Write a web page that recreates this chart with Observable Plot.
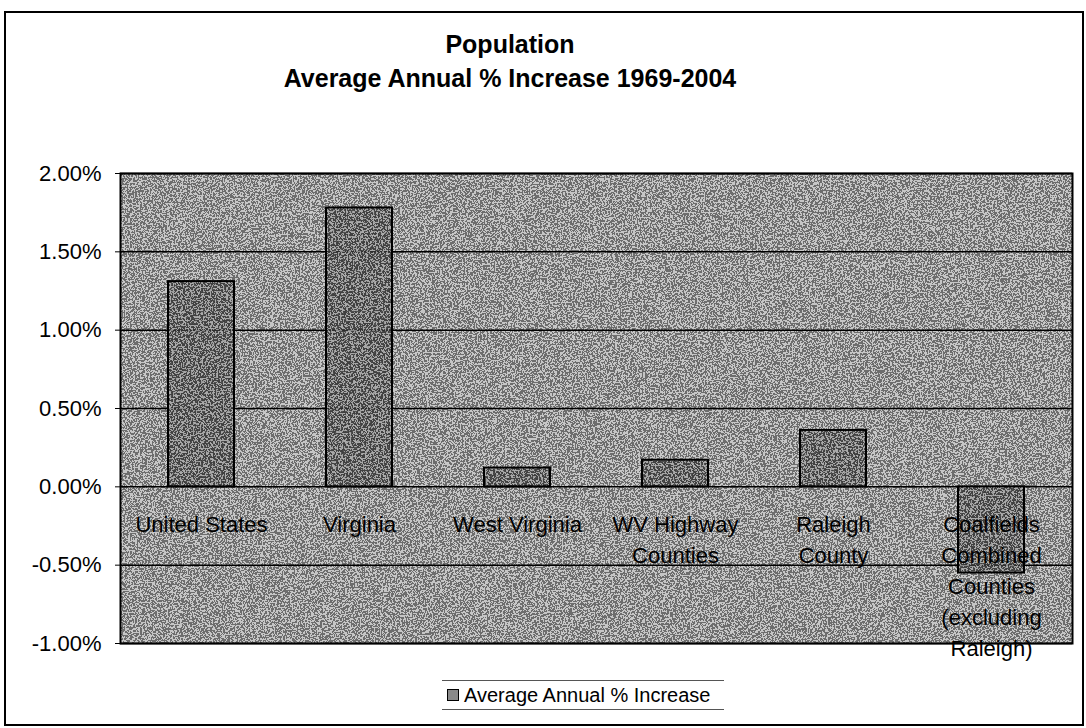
<!DOCTYPE html>
<html>
<head>
<meta charset="utf-8">
<script src="https://cdn.jsdelivr.net/npm/d3@7"></script>
<script src="https://cdn.jsdelivr.net/npm/@observablehq/plot@0.6"></script>
<style>
  html, body { margin: 0; padding: 0; background: #fff; }
  #wrap { position: relative; width: 1086px; height: 728px; overflow: hidden; font-family: "Liberation Sans", Arial, sans-serif; }
  #frame { position: absolute; left: 4px; top: 11px; width: 1080px; height: 715px; border: 2px solid #000; box-sizing: border-box; }
  #title { position: absolute; left: 0; width: 1020px; top: 27px; text-align: center; font-weight: bold; font-size: 25px; line-height: 34px; color: #000; }
  #chart { position: absolute; left: 0; top: 150px; }
  #legend { position: absolute; left: 442px; top: 680px; width: 282px; height: 28px; border-top: 1px solid #555; border-bottom: 1px solid #555; display: flex; align-items: center; font-size: 20px; color: #000; }
  #legend .sw { width: 10px; height: 10px; background: #8a8a8a; border: 1px solid #000; margin-left: 5px; margin-right: 5px; }
</style>
</head>
<body>
<div id="wrap">
  <div id="frame"></div>
  <div id="title">Population<br>Average Annual % Increase 1969-2004</div>
  <div id="chart"></div>
  <div id="legend"><span class="sw"></span>Average Annual % Increase</div>
</div>
<script>
const categories = ["United States", "Virginia", "West Virginia", "WV Highway Counties", "Raleigh County", "Coalfields Combined Counties (excluding Raleigh)"];
const labels = ["United States", "Virginia", "West Virginia", "WV Highway\nCounties", "Raleigh\nCounty", "Coalfields\nCombined\nCounties\n(excluding\nRaleigh)"];
const values = [0.0131, 0.0178, 0.0012, 0.0017, 0.0036, -0.0055];
const yTicks = [-0.01, -0.005, 0, 0.005, 0.01, 0.015, 0.02];

const data = categories.map((c, i) => ({name: c, label: labels[i], value: values[i]}));
const fmt = d3.format(".2%");

const chart = Plot.plot({
  width: 1086,
  height: 513,
  marginLeft: 120,
  marginRight: 14,
  marginTop: 23,
  marginBottom: 20,
  style: {fontFamily: "Liberation Sans, Arial, sans-serif", fontSize: "22px", color: "#000", background: "transparent", overflow: "visible"},
  x: {domain: categories, paddingInner: 0.58, paddingOuter: 0.29, axis: null},
  y: {domain: [-0.01, 0.02], ticks: yTicks, tickFormat: d => fmt(d).replace("−", "-"), tickSize: 5, tickPadding: 14, label: null},
  marks: [
    Plot.frame({fill: "#a8a8a8", stroke: "none"}),
    Plot.gridY(yTicks, {stroke: "#000", strokeOpacity: 1, strokeWidth: 1.5}),
    Plot.barY(data, {x: "name", y: "value", fill: "#8a8a8a", stroke: "none"}),
    Plot.barY(data, {x: "name", y: "value", fill: "none", stroke: "#000", strokeWidth: 2}),
    Plot.text(data, {x: "name", y: 0, text: "label", lineAnchor: "top", dy: 23, lineHeight: 1.41, fontSize: 22, fill: "#000"}),
    Plot.frame({stroke: "#000", strokeWidth: 2})
  ]
});
document.getElementById("chart").appendChild(chart);

// scanned halftone grain on the plot background and bar fills
const svg = d3.select(chart);
svg.insert("defs", ":first-child").html(`
  <filter id="grain" x="0" y="0" width="100%" height="100%" color-interpolation-filters="sRGB">
    <feTurbulence type="fractalNoise" baseFrequency="0.6" numOctaves="2" seed="7" result="n"/>
    <feColorMatrix in="n" type="matrix" values="0.33 0.33 0.33 0 0  0.33 0.33 0.33 0 0  0.33 0.33 0.33 0 0  0 0 0 0 1" result="g"/>
    <feComponentTransfer in="g" result="b">
      <feFuncR type="discrete" tableValues="0 1"/>
      <feFuncG type="discrete" tableValues="0 1"/>
      <feFuncB type="discrete" tableValues="0 1"/>
    </feComponentTransfer>
    <feComposite in="b" in2="SourceGraphic" operator="arithmetic" k1="0" k2="0.35" k3="0.65" k4="-0.17"/>
  </filter>`);
const frames = chart.querySelectorAll('[aria-label="frame"]');
if (frames.length) {
  const el = frames[0];
  const r = el.tagName.toLowerCase() === "rect" ? el : el.querySelector("rect");
  if (r) r.setAttribute("filter", "url(#grain)");
}
const barGroups = chart.querySelectorAll('[aria-label="bar"]');
if (barGroups.length) barGroups[0].querySelectorAll("rect").forEach(r => r.setAttribute("filter", "url(#grain)"));
</script>
</body>
</html>
